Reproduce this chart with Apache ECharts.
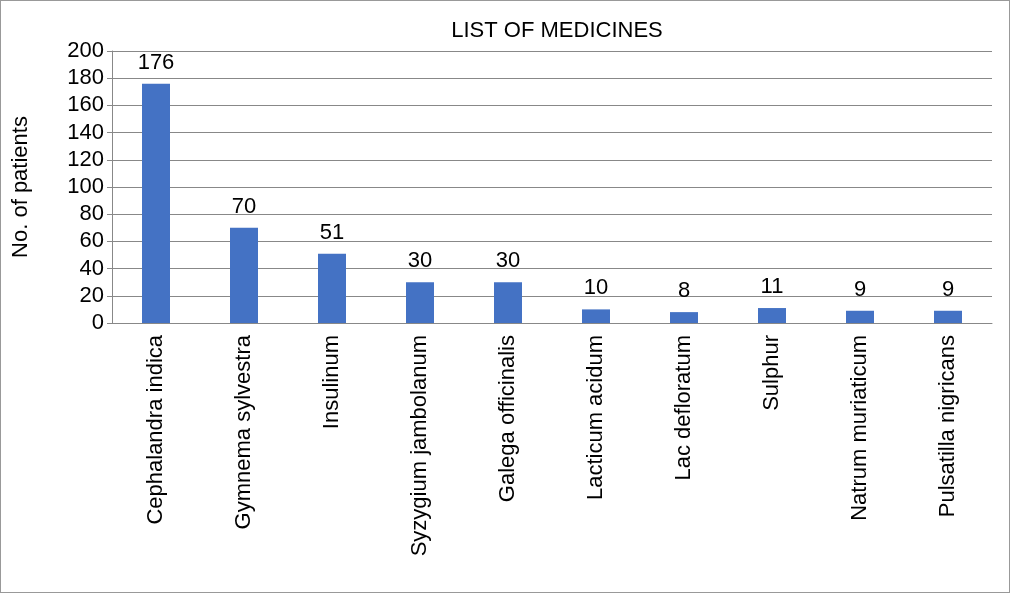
<!DOCTYPE html>
<html><head><meta charset="utf-8">
<script src="https://cdn.jsdelivr.net/npm/echarts@6/dist/echarts.min.js"></script>
<style>html,body{margin:0;padding:0;background:#fff}#c{width:1008px;height:591px;border:1px solid #999}</style>
</head><body><div id="c"></div>
<script>
const categories=["Cephalandra indica","Gymnema sylvestra","Insulinum","Syzygium jambolanum","Galega officinalis","Lacticum acidum","Lac defloratum","Sulphur","Natrum muriaticum","Pulsatilla nigricans"];
const patients=[176,70,51,30,30,10,8,11,9,9];
const chart=echarts.init(document.getElementById('c'));
const F='Liberation Sans, Arial, sans-serif';
chart.setOption({
 animation:false,
 title:{text:'LIST OF MEDICINES',left:551,top:14,textAlign:'center',textStyle:{fontFamily:F,fontSize:22,fontWeight:'normal',color:'#000'}},
 grid:{left:111,right:17,top:50,bottom:269},
 xAxis:{type:'category',data:categories,axisTick:{show:false},axisLine:{lineStyle:{color:'#888'}},
  axisLabel:{rotate:90,fontFamily:F,fontSize:22,color:'#000',margin:12,interval:0}},
 yAxis:{type:'value',min:0,max:200,interval:20,name:'No. of patients',nameLocation:'middle',nameGap:80,
  nameTextStyle:{fontFamily:F,fontSize:22,color:'#000'},
  axisLine:{show:true,lineStyle:{color:'#888'}},axisTick:{show:true,length:5,lineStyle:{color:'#888'}},
  axisLabel:{fontFamily:F,fontSize:22,color:'#000',margin:8},splitLine:{lineStyle:{color:'#888'}}},
 series:[{type:'bar',data:patients,barWidth:28,itemStyle:{color:'#4472C4'},
  label:{show:true,position:'top',distance:10,fontFamily:F,fontSize:22,color:'#000'}}]
});
</script></body></html>
